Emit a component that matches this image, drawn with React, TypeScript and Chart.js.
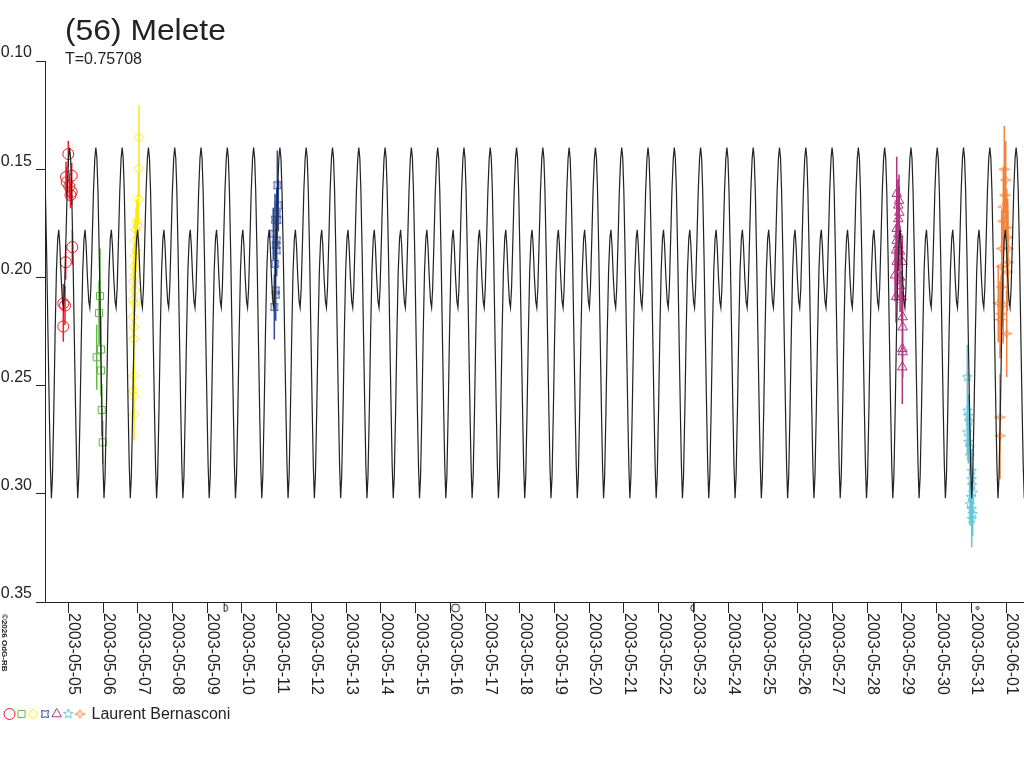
import React, { useEffect, useRef } from 'react';
import { Chart, registerables } from 'chart.js';
import { drawPoint } from 'chart.js/helpers';

Chart.register(...registerables);

// ---------- texts ----------
const TITLE = '(56) Melete';
const SUBTITLE = 'T=0.75708';
const OBSERVER = 'Laurent Bernasconi';
const COPYRIGHT = '©2026 OdG-RB';

// ---------- axes ----------
// x values are days since 2003-05-05 00:00 UT
const DATE_LABELS = [
  '2003-05-05', '2003-05-06', '2003-05-07', '2003-05-08', '2003-05-09', '2003-05-10', '2003-05-11',
  '2003-05-12', '2003-05-13', '2003-05-14', '2003-05-15', '2003-05-16', '2003-05-17', '2003-05-18',
  '2003-05-19', '2003-05-20', '2003-05-21', '2003-05-22', '2003-05-23', '2003-05-24', '2003-05-25',
  '2003-05-26', '2003-05-27', '2003-05-28', '2003-05-29', '2003-05-30', '2003-05-31', '2003-06-01',
];
const DAY_TICKS = [0, 1, 2, 3, 4, 5, 6, 7, 8, 9, 10, 11, 12, 13, 14, 15, 16, 17, 18, 19, 20, 21, 22, 23, 24, 25, 26, 27];
const X_MIN = -0.671;
const X_MAX = 27.518;
const Y_MIN = 0.1;
const Y_MAX = 0.35;
const Y_TICKS = [0.1, 0.15, 0.2, 0.25, 0.3, 0.35];

// ---------- model lightcurve (one rotation) ----------
const MODEL_PERIOD = 0.75708;
const MODEL_EPOCH = 6.85; // a primary maximum
const MODEL_PHASE = [0, 0.04, 0.08, 0.13, 0.18, 0.23, 0.27, 0.31, 0.35, 0.4, 0.45, 0.5, 0.55, 0.59, 0.63, 0.68, 0.73, 0.77, 0.81, 0.86, 0.91, 0.96];
const MODEL_MAG = [0.14, 0.145, 0.16, 0.19, 0.227, 0.262, 0.287, 0.302, 0.292, 0.262, 0.226, 0.197, 0.182, 0.178, 0.185, 0.2, 0.211, 0.214, 0.205, 0.183, 0.16, 0.145];

// ---------- observation sessions ----------
const RED_X = [0.0, -0.066, 0.098, -0.046, 0.029, 0.098, 0.063, 0.115, -0.075, -0.144, -0.095, -0.144];
const RED_Y = [0.143, 0.1536, 0.153, 0.156, 0.158, 0.1605, 0.162, 0.186, 0.193, 0.212, 0.213, 0.2227];
const RED_ERR = [0.006, 0.007, 0.006, 0.007, 0.006, 0.006, 0.006, 0.008, 0.008, 0.009, 0.009, 0.007];

const GREEN_X = [0.913, 0.884, 0.942, 0.818, 0.942, 0.962, 0.991];
const GREEN_Y = [0.2086, 0.2165, 0.2333, 0.2369, 0.243, 0.2613, 0.2762];
const GREEN_ERR = [0.022, 0.015, 0.015, 0.015, 0.012, 0.012, 0.01];

const YELLOW_X = [2.036, 2.036, 2.016, 1.97, 1.993, 1.949, 1.921, 1.949, 1.921, 1.892, 1.921, 1.872, 1.921, 1.872, 1.906, 1.872, 1.892, 1.892, 1.892, 1.872, 1.892, 1.892];
const YELLOW_Y = [0.1353, 0.1497, 0.164, 0.174, 0.176, 0.178, 0.183, 0.1875, 0.19, 0.195, 0.199, 0.202, 0.206, 0.2103, 0.212, 0.2183, 0.223, 0.2284, 0.2454, 0.2523, 0.255, 0.2634];
const YELLOW_ERR = [0.015, 0.013, 0.012, 0.01, 0.01, 0.01, 0.01, 0.01, 0.01, 0.01, 0.01, 0.01, 0.01, 0.01, 0.01, 0.01, 0.01, 0.01, 0.012, 0.012, 0.012, 0.012];

const BLUE_X = [6.018, 6.047, 6.001, 5.952, 6.018, 5.903, 6.001, 5.972, 6.001, 5.952, 5.972, 5.972, 5.932];
const BLUE_Y = [0.1574, 0.1667, 0.1705, 0.1733, 0.1735, 0.1798, 0.1829, 0.185, 0.1875, 0.1937, 0.206, 0.208, 0.2137];
const BLUE_ERR = [0.016, 0.012, 0.012, 0.012, 0.012, 0.012, 0.012, 0.012, 0.012, 0.012, 0.012, 0.012, 0.015];

const PURPLE_X = [23.853, 23.919, 23.899, 23.928, 23.899, 23.853, 23.899, 23.853, 23.899, 23.833, 23.948, 23.853, 24.014, 23.804, 23.948, 23.948, 23.833, 23.996, 24.025, 24.025, 24.014, 24.025, 24.014];
const PURPLE_Y = [0.1613, 0.1645, 0.1667, 0.17, 0.173, 0.1775, 0.18, 0.183, 0.185, 0.1875, 0.188, 0.1927, 0.1927, 0.199, 0.2, 0.204, 0.209, 0.209, 0.2183, 0.223, 0.233, 0.2345, 0.2415];
const PURPLE_ERR = [0.017, 0.012, 0.012, 0.012, 0.012, 0.012, 0.012, 0.012, 0.012, 0.012, 0.012, 0.012, 0.012, 0.012, 0.012, 0.012, 0.012, 0.012, 0.012, 0.012, 0.012, 0.012, 0.017];

const CYAN_X = [25.886, 25.886, 25.915, 25.934, 25.886, 25.915, 25.963, 25.963, 26.012, 26.012, 26.021, 26.041, 25.992, 25.963, 26.012, 26.041, 26.012];
const CYAN_Y = [0.2461, 0.2616, 0.264, 0.2666, 0.2716, 0.276, 0.2785, 0.2824, 0.2894, 0.2932, 0.296, 0.2994, 0.3015, 0.3048, 0.307, 0.3094, 0.3117];
const CYAN_ERR = [0.015, 0.01, 0.01, 0.01, 0.01, 0.01, 0.01, 0.01, 0.01, 0.01, 0.01, 0.01, 0.01, 0.01, 0.01, 0.01, 0.013];

const ORANGE_X = [26.951, 26.991, 26.971, 26.922, 26.922, 27.02, 27.049, 26.876, 27.058, 27.058, 26.876, 27.037, 26.876, 26.778, 26.922, 26.856, 26.827, 27.02, 26.827, 26.827];
const ORANGE_Y = [0.15, 0.155, 0.162, 0.1674, 0.174, 0.177, 0.1815, 0.1867, 0.1867, 0.193, 0.195, 0.1975, 0.2045, 0.212, 0.2125, 0.2168, 0.2195, 0.226, 0.2646, 0.2732];
const ORANGE_ERR = [0.02, 0.018, 0.018, 0.018, 0.018, 0.018, 0.018, 0.018, 0.018, 0.018, 0.018, 0.018, 0.018, 0.018, 0.018, 0.018, 0.018, 0.02, 0.02, 0.02];

// ---------- moon phases (days since 2003-05-05 0h) ----------
const MOON_DAYS = [4.53, 11.15, 17.98, 26.18];
const MOON_KINDS = ['first', 'full', 'last', 'new'];
const MOON_Y = 0.3528;

const RED = '#ED1C24';
const GREEN = '#62B946';
const YELLOW = '#F9E81A';
const BLUE = '#2B4C9B';
const PURPLE = '#B0337F';
const CYAN = '#62C6DA';
const ORANGE = '#F5823A';
const INK = '#222222';
const FONT = '"Liberation Sans", Arial, sans-serif';

function makeCanvas(size: number) {
  const c = document.createElement('canvas');
  c.width = size;
  c.height = size;
  return c;
}

function starMarker(color: string, points: number, rOut: number, rIn: number, rot: number, sx = 1, sy = 1) {
  const size = Math.ceil(rOut * 2 + 4);
  const c = makeCanvas(size);
  const ctx = c.getContext('2d')!;
  ctx.strokeStyle = color;
  ctx.lineWidth = 1;
  ctx.translate(size / 2, size / 2);
  ctx.beginPath();
  for (let i = 0; i < points * 2; i++) {
    const a = rot + (i * Math.PI) / points;
    const r = i % 2 === 0 ? rOut : rIn;
    const x = Math.cos(a) * r * sx;
    const y = Math.sin(a) * r * sy;
    if (i === 0) ctx.moveTo(x, y);
    else ctx.lineTo(x, y);
  }
  ctx.closePath();
  ctx.stroke();
  return c;
}

function moonMarker(kind: string) {
  const c = makeCanvas(12);
  const ctx = c.getContext('2d')!;
  ctx.strokeStyle = INK;
  ctx.lineWidth = 1;
  ctx.translate(6, 6);
  ctx.beginPath();
  if (kind === 'full') {
    ctx.arc(0, 0, 4, 0, Math.PI * 2);
  } else if (kind === 'new') {
    ctx.arc(0, 0, 1.5, 0, Math.PI * 2);
  } else if (kind === 'first') {
    ctx.moveTo(-1.5, -5);
    ctx.lineTo(-1.5, 3.5);
    ctx.arc(-1.5, 0, 3.5, Math.PI / 2, -Math.PI / 2, true);
  } else {
    ctx.moveTo(1.5, -5);
    ctx.lineTo(1.5, 3.5);
    ctx.arc(1.5, 0, 3.5, Math.PI / 2, -Math.PI / 2, false);
  }
  ctx.stroke();
  return c;
}

function buildModel() {
  const pts: { x: number; y: number }[] = [];
  const n0 = Math.floor((X_MIN - MODEL_EPOCH) / MODEL_PERIOD) - 1;
  const n1 = Math.ceil((X_MAX - MODEL_EPOCH) / MODEL_PERIOD) + 1;
  for (let n = n0; n <= n1; n++) {
    for (let k = 0; k < MODEL_PHASE.length; k++) {
      pts.push({ x: MODEL_EPOCH + (n + MODEL_PHASE[k]) * MODEL_PERIOD, y: MODEL_MAG[k] });
    }
  }
  return pts;
}

function points(xs: number[], ys: number[]) {
  return xs.map((x, i) => ({ x, y: ys[i] }));
}

function errorBars(xs: number[], ys: number[], es: number[]) {
  const out: { x: number; y: number | null }[] = [];
  xs.forEach((x, i) => {
    out.push({ x, y: ys[i] - es[i] });
    out.push({ x, y: ys[i] + es[i] });
    out.push({ x, y: null });
  });
  return out;
}

export default function App() {
  const ref = useRef<HTMLCanvasElement | null>(null);

  useEffect(() => {
    if (!ref.current) return;

    const series = [
      { x: RED_X, y: RED_Y, e: RED_ERR, color: RED, style: 'circle' as any, radius: 5.5 },
      { x: GREEN_X, y: GREEN_Y, e: GREEN_ERR, color: GREEN, style: 'rect' as any, radius: 5 },
      { x: YELLOW_X, y: YELLOW_Y, e: YELLOW_ERR, color: YELLOW, style: 'rectRot' as any, radius: 5 },
      { x: BLUE_X, y: BLUE_Y, e: BLUE_ERR, color: BLUE, style: starMarker(BLUE, 4, 5, 2.8, -Math.PI / 4) as any, radius: 5 },
      { x: PURPLE_X, y: PURPLE_Y, e: PURPLE_ERR, color: PURPLE, style: 'triangle' as any, radius: 5.5 },
      { x: CYAN_X, y: CYAN_Y, e: CYAN_ERR, color: CYAN, style: starMarker(CYAN, 5, 5, 2.2, -Math.PI / 2) as any, radius: 5 },
      { x: ORANGE_X, y: ORANGE_Y, e: ORANGE_ERR, color: ORANGE, style: starMarker(ORANGE, 4, 5.5, 1.8, 0, 1, 0.8) as any, radius: 5 },
    ];

    const moonStyles = MOON_KINDS.map((k) => moonMarker(k));

    const datasets: any[] = [
      {
        type: 'line',
        data: buildModel(),
        borderColor: INK,
        borderWidth: 1.2,
        pointRadius: 0,
        tension: 0,
      },
      ...series.map((s) => ({
        type: 'scatter',
        data: points(s.x, s.y),
        borderColor: s.color,
        backgroundColor: 'rgba(0,0,0,0)',
        borderWidth: 1,
        pointStyle: s.style,
        pointRadius: s.radius,
        showLine: false,
      })),
      {
        type: 'scatter',
        data: points(MOON_DAYS, MOON_DAYS.map(() => MOON_Y)),
        pointStyle: moonStyles as any,
        pointRadius: 12,
        borderWidth: 0,
        clip: false,
        showLine: false,
      },
      ...series.map((s) => ({
        type: 'line',
        data: errorBars(s.x, s.y, s.e),
        borderColor: s.color,
        borderWidth: 1.5,
        pointRadius: 0,
        spanGaps: false,
        tension: 0,
      })),
    ];

    const decor = {
      id: 'decor',
      afterDraw(chart: any) {
        const ctx: CanvasRenderingContext2D = chart.ctx;
        const xs = chart.scales.x;
        ctx.save();
        ctx.fillStyle = INK;
        ctx.textAlign = 'left';
        ctx.textBaseline = 'alphabetic';

        // title (slightly wide face as in the original)
        ctx.save();
        ctx.font = `30px ${FONT}`;
        ctx.translate(65, 39.5);
        ctx.scale(1.06, 1);
        ctx.fillText(TITLE, 0, 0);
        ctx.restore();

        ctx.font = `16px ${FONT}`;
        ctx.fillText(SUBTITLE, 65, 64);

        // rotated date labels
        DAY_TICKS.forEach((v, i) => {
          const px = xs.getPixelForValue(v);
          ctx.save();
          ctx.translate(px + 1, 613);
          ctx.rotate(Math.PI / 2);
          ctx.fillText(DATE_LABELS[i], 0, 0);
          ctx.restore();
        });

        // copyright
        ctx.save();
        ctx.font = `bold 8px ${FONT}`;
        ctx.translate(1.5, 614);
        ctx.rotate(Math.PI / 2);
        ctx.fillText(COPYRIGHT, 0, 0);
        ctx.restore();

        // legend
        const lx = [9.5, 21.5, 33.3, 45, 56.7, 68.3, 80];
        series.forEach((s, i) => {
          ctx.save();
          ctx.strokeStyle = s.color;
          ctx.fillStyle = 'rgba(0,0,0,0)';
          ctx.lineWidth = 1;
          drawPoint(ctx, { pointStyle: s.style, radius: s.radius, rotation: 0, borderWidth: 1 } as any, lx[i], 714);
          ctx.restore();
        });
        ctx.fillStyle = INK;
        ctx.font = `16px ${FONT}`;
        ctx.fillText(OBSERVER, 91.5, 718.5);
        ctx.restore();
      },
    };

    const chart = new Chart(ref.current, {
      type: 'scatter',
      data: { datasets },
      options: {
        responsive: false,
        animation: false,
        events: [],
        layout: { autoPadding: false, padding: { top: 61, left: 0, right: 0, bottom: 0 } },
        plugins: {
          legend: { display: false },
          tooltip: { enabled: false },
          title: { display: false },
        },
        scales: {
          x: {
            type: 'linear',
            min: X_MIN,
            max: X_MAX,
            afterBuildTicks: (s: any) => {
              s.ticks = DAY_TICKS.map((v) => ({ value: v }));
            },
            afterFit: (s: any) => {
              s.height = 166;
            },
            ticks: { display: false },
            grid: { drawOnChartArea: false, drawTicks: true, tickLength: 11, color: INK, lineWidth: 1 },
            border: { display: true, color: INK, width: 1 },
          },
          y: {
            type: 'linear',
            reverse: true,
            min: Y_MIN,
            max: Y_MAX,
            afterBuildTicks: (s: any) => {
              s.ticks = Y_TICKS.map((v) => ({ value: v }));
            },
            afterFit: (s: any) => {
              s.width = 45;
            },
            ticks: {
              callback: (v: any) => Number(v).toFixed(2),
              font: { family: FONT, size: 16 },
              color: INK,
              padding: 4,
              labelOffset: -8,
            },
            grid: { drawOnChartArea: false, drawTicks: true, tickLength: 9, color: INK, lineWidth: 1 },
            border: { display: true, color: INK, width: 1 },
          },
        },
      } as any,
      plugins: [decor],
    });

    return () => chart.destroy();
  }, []);

  return (
    <div style={{ position: 'absolute', left: 0, top: 0, width: 1024, height: 768, background: '#fff' }}>
      <canvas ref={ref} width={1024} height={768} style={{ display: 'block' }} />
    </div>
  );
}
